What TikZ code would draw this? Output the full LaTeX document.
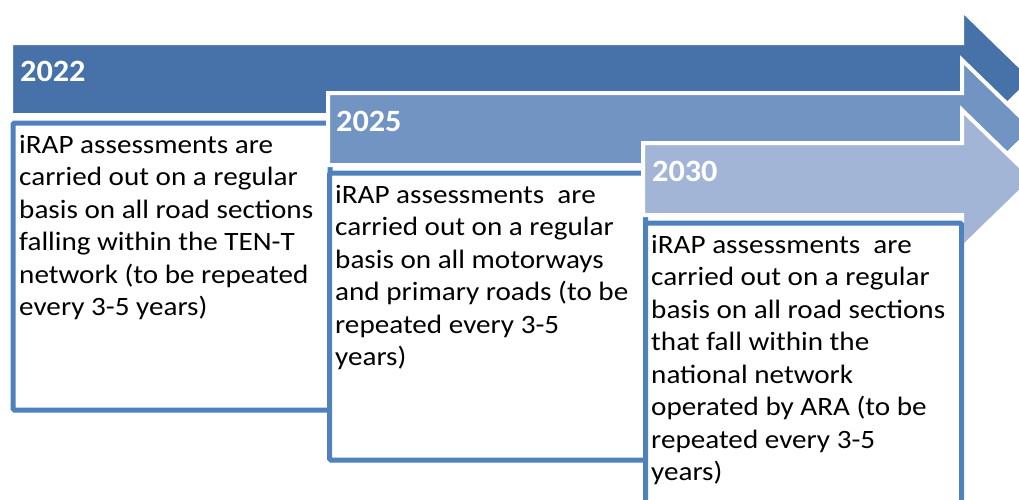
\documentclass[tikz,border=0pt]{standalone}
\usepackage{fontspec}
\setmainfont{Carlito}
\newfontfamily\bodyfont{Carlito}[FakeStretch=1.1]
\newfontfamily\yearfont{Carlito}[FakeStretch=1.04]
\definecolor{arrowA}{HTML}{4672A9}
\definecolor{arrowB}{HTML}{7194C3}
\definecolor{arrowC}{HTML}{A3B5D6}
\definecolor{frameblue}{HTML}{4F81BD}
\tikzset{
  stagearrow/.style={draw=white, line width=4pt, line join=miter},
  textbox/.style={draw=frameblue, fill=white, line width=5pt, rounded corners=1.5pt,
    anchor=north west, inner sep=0pt},
  bodytext/.style={anchor=north west, inner sep=0pt, align=left, text=black,
    font=\bodyfont\fontsize{26.5}{32.5}\selectfont},
  yeartext/.style={anchor=base west, inner sep=0pt, text=white,
    font=\yearfont\bfseries\fontsize{31}{36}\selectfont},
}
\begin{document}
\begin{tikzpicture}[x=1pt,y=-1pt]
\useasboundingbox (0,0) rectangle (1019,499);
\clip (0,0) rectangle (1019,499);

% stage 1
\filldraw[stagearrow, fill=arrowA] (11,43) -- (962,43) -- (962,10) -- (1033,79)
  -- (962,148) -- (962,115) -- (11,115) -- cycle;
\node[textbox, minimum width=317pt, minimum height=287pt] (box1) at (10.5,120.5) {};
\node[yeartext] (year1) at (20,81.5) {2022};
\node[bodytext] (text1) at (19,135) {iRAP assessments are\\carried out on a regular\\basis on all road sections\\falling within the TEN-T\\network (to be repeated\\every 3-5 years)};

% stage 2
\filldraw[stagearrow, fill=arrowB] (328,93) -- (962,93) -- (962,60) -- (1033,129)
  -- (962,198) -- (962,165) -- (328,165) -- cycle;
\node[textbox, minimum width=316pt, minimum height=287pt] (box2) at (327,170.5) {};
\node[yeartext] (year2) at (336,131.5) {2025};
\node[bodytext] (text2) at (335,185) {iRAP assessments\ \ are\\carried out on a regular\\basis on all motorways\\and primary roads (to be\\repeated every 3-5\\years)};

% stage 3
\filldraw[stagearrow, fill=arrowC] (643,143) -- (962,143) -- (962,110) -- (1033,179)
  -- (962,248) -- (962,215) -- (643,215) -- cycle;
\node[textbox, minimum width=316pt, minimum height=320pt] (box3) at (643,220.5) {};
\node[yeartext] (year3) at (652,181.5) {2030};
\node[bodytext] (text3) at (651,235) {iRAP assessments\ \ are\\carried out on a regular\\basis on all road sections\\that fall within the\\national network\\operated by ARA (to be\\repeated every 3-5\\years)};
\end{tikzpicture}
\end{document}
